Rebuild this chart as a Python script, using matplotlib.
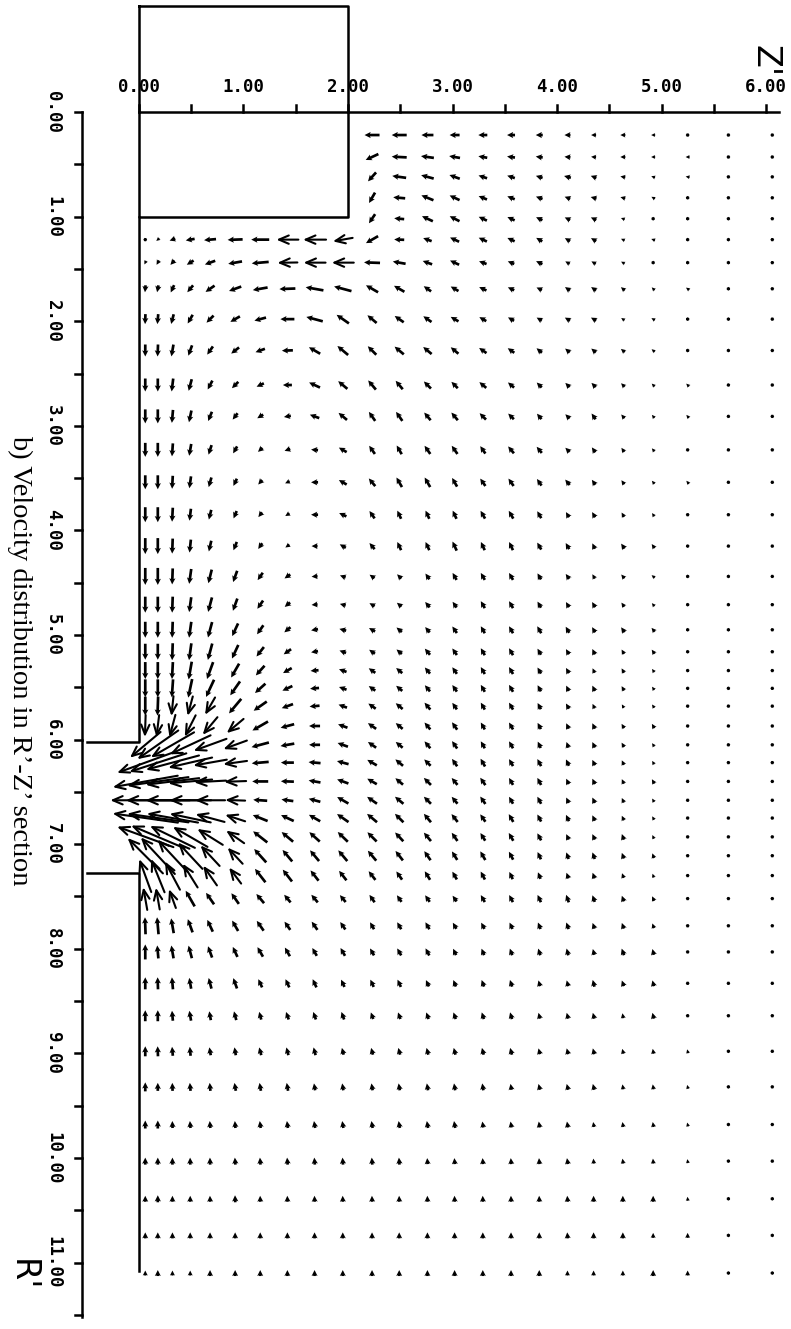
import numpy as np
import matplotlib
matplotlib.use('Agg')
import matplotlib.pyplot as plt

# grid of the velocity arrows (Z' across, R' down)
Z_COLS = [0.06, 0.18, 0.32, 0.49, 0.68, 0.92, 1.16, 1.42, 1.68, 1.95, 2.23, 2.49,
          2.76, 3.02, 3.29, 3.56, 3.83, 4.10, 4.35, 4.63, 4.92, 5.25, 5.64, 6.06]
R_ROWS = [0.22, 0.43, 0.62, 0.82, 1.02, 1.22, 1.44, 1.69, 1.98, 2.28, 2.61, 2.91,
          3.23, 3.54, 3.85, 4.15, 4.44, 4.71, 4.95, 5.16, 5.34, 5.51, 5.68, 5.87,
          6.05, 6.22, 6.40, 6.58, 6.75, 6.93, 7.11, 7.30, 7.52, 7.78, 8.03, 8.33,
          8.64, 8.98, 9.32, 9.68, 10.03, 10.39, 10.74, 11.10]

_ = None
# arrow magnitude (1/100 of a Z' unit), one row per R_ROWS entry
SPEED = [
    [_, _, _, _, _, _, _, _, _, _, 15, 15, 12, 10, 9, 8, 7, 6, 5, 5, 4, 3, 2, 1],
    [_, _, _, _, _, _, _, _, _, _, 14, 15, 13, 11, 9, 8, 7, 6, 5, 5, 4, 4, 2, 1],
    [_, _, _, _, _, _, _, _, _, _, 12, 14, 13, 11, 9, 8, 7, 7, 6, 5, 4, 4, 3, 1],
    [_, _, _, _, _, _, _, _, _, _, 12, 12, 13, 11, 9, 8, 7, 6, 6, 5, 4, 3, 2, 1],
    [_, _, _, _, _, _, _, _, _, _, 11, 10, 12, 11, 9, 8, 7, 6, 6, 4, 3, 3, 2, 1],
    [3, 4, 6, 9, 12, 15, 18, 22, 23, 20, 14, 10, 9, 10, 9, 8, 7, 6, 6, 4, 4, 3, 2, 1],
    [4, 5, 6, 8, 11, 14, 17, 20, 22, 22, 16, 13, 10, 10, 8, 7, 7, 5, 5, 4, 3, 3, 2, 1],
    [7, 7, 8, 9, 11, 13, 15, 16, 18, 18, 14, 12, 9, 9, 8, 7, 6, 6, 6, 5, 4, 4, 2, 1],
    [10, 10, 10, 10, 10, 11, 12, 14, 17, 15, 12, 11, 10, 9, 8, 7, 6, 6, 6, 4, 4, 3, 2, 1],
    [12, 12, 12, 11, 10, 10, 10, 11, 13, 14, 12, 12, 11, 10, 9, 8, 7, 6, 6, 5, 4, 3, 2, 1],
    [13, 13, 13, 12, 10, 9, 8, 9, 12, 12, 12, 11, 10, 9, 9, 8, 7, 6, 6, 5, 4, 4, 2, 1],
    [14, 14, 13, 12, 10, 8, 7, 7, 10, 11, 11, 11, 10, 10, 9, 8, 7, 6, 7, 5, 4, 4, 2, 1],
    [14, 14, 13, 12, 10, 8, 6, 6, 7, 9, 10, 10, 10, 10, 9, 9, 8, 6, 6, 5, 4, 3, 2, 1],
    [14, 14, 13, 12, 10, 8, 6, 5, 7, 9, 10, 11, 11, 10, 9, 9, 8, 7, 6, 5, 4, 4, 2, 1],
    [15, 15, 14, 12, 10, 8, 6, 5, 7, 8, 9, 9, 9, 9, 9, 9, 8, 6, 6, 5, 4, 3, 2, 1],
    [16, 16, 15, 13, 11, 9, 7, 5, 6, 7, 8, 9, 9, 10, 9, 9, 8, 7, 6, 6, 5, 3, 2, 1],
    [17, 17, 16, 15, 14, 12, 9, 7, 6, 6, 6, 6, 7, 8, 8, 8, 7, 6, 5, 5, 4, 3, 2, 1],
    [16, 16, 16, 15, 15, 13, 10, 7, 6, 6, 6, 6, 7, 7, 8, 8, 7, 6, 6, 5, 4, 3, 2, 1],
    [16, 16, 16, 16, 16, 14, 11, 8, 7, 7, 7, 7, 7, 8, 8, 8, 8, 7, 6, 6, 5, 3, 2, 1],
    [16, 16, 17, 17, 17, 15, 12, 9, 7, 7, 7, 7, 8, 8, 8, 8, 7, 6, 6, 5, 5, 3, 2, 1],
    [17, 17, 17, 18, 18, 16, 13, 10, 8, 8, 8, 8, 8, 8, 8, 8, 7, 6, 5, 5, 4, 3, 2, 1],
    [18, 18, 18, 19, 19, 17, 14, 11, 9, 8, 8, 8, 8, 8, 8, 8, 7, 6, 6, 5, 4, 3, 2, 1],
    [19, 19, 20, 20, 20, 19, 16, 12, 10, 9, 9, 9, 9, 8, 8, 8, 7, 6, 5, 4, 4, 3, 2, 1],
    [22, 22, 23, 24, 23, 22, 18, 14, 11, 10, 10, 9, 9, 9, 8, 8, 7, 6, 6, 5, 5, 3, 2, 1],
    [40, 50, 50, 45, 35, 25, 18, 14, 11, 11, 10, 9, 9, 9, 8, 8, 7, 6, 6, 5, 4, 3, 2, 1],
    [60, 60, 55, 45, 34, 24, 17, 13, 12, 12, 11, 10, 9, 9, 9, 8, 8, 7, 6, 5, 4, 3, 2, 1],
    [66, 62, 54, 44, 32, 22, 16, 13, 12, 12, 11, 10, 10, 9, 9, 8, 8, 6, 6, 5, 5, 3, 2, 1],
    [70, 64, 54, 42, 30, 20, 14, 12, 12, 13, 12, 11, 10, 9, 9, 8, 8, 6, 6, 5, 4, 3, 2, 1],
    [66, 62, 52, 42, 30, 21, 16, 14, 13, 14, 13, 12, 11, 10, 9, 9, 8, 7, 6, 5, 4, 3, 2, 1],
    [60, 58, 50, 40, 30, 22, 18, 15, 14, 14, 13, 12, 11, 10, 9, 9, 8, 6, 6, 6, 4, 3, 2, 1],
    [50, 50, 44, 36, 28, 22, 18, 15, 14, 14, 13, 12, 11, 10, 10, 9, 8, 7, 7, 6, 5, 3, 2, 1],
    [35, 36, 32, 28, 24, 20, 17, 15, 13, 12, 11, 10, 10, 9, 9, 8, 7, 6, 6, 5, 4, 3, 2, 1],
    [23, 22, 20, 18, 14, 13, 12, 10, 10, 9, 9, 8, 8, 7, 8, 8, 8, 8, 7, 6, 5, 3, 2, 1],
    [17, 17, 15, 14, 13, 12, 12, 10, 10, 9, 8, 8, 8, 7, 7, 7, 7, 7, 6, 6, 5, 3, 2, 1],
    [15, 13, 13, 13, 12, 11, 11, 10, 9, 9, 8, 8, 8, 7, 7, 7, 7, 7, 6, 7, 6, 3, 2, 1],
    [12, 12, 12, 11, 11, 11, 9, 9, 9, 8, 8, 8, 7, 7, 7, 7, 6, 6, 7, 6, 6, 3, 2, 1],
    [11, 11, 10, 10, 9, 9, 8, 8, 8, 8, 7, 7, 7, 7, 7, 7, 6, 6, 6, 5, 6, 3, 2, 1],
    [10, 10, 9, 9, 8, 8, 8, 8, 8, 7, 7, 7, 7, 7, 7, 7, 6, 6, 6, 5, 5, 4, 2, 1],
    [9, 8, 8, 8, 8, 8, 8, 8, 7, 7, 7, 7, 7, 7, 7, 6, 6, 6, 6, 5, 5, 4, 2, 1],
    [8, 8, 7, 7, 7, 7, 7, 7, 7, 7, 7, 7, 7, 7, 6, 6, 6, 6, 5, 5, 5, 4, 2, 1],
    [7, 7, 7, 7, 7, 7, 7, 7, 7, 7, 7, 7, 6, 6, 6, 6, 6, 6, 5, 5, 5, 4, 2, 1],
    [6, 7, 6, 6, 6, 7, 6, 6, 6, 6, 6, 6, 6, 6, 6, 6, 6, 6, 6, 6, 6, 4, 2, 1],
    [6, 6, 6, 6, 6, 6, 6, 6, 6, 6, 6, 6, 6, 6, 6, 6, 6, 6, 6, 6, 5, 5, 2, 1],
    [5, 6, 5, 5, 6, 6, 6, 6, 6, 6, 6, 6, 6, 6, 6, 6, 6, 5, 5, 5, 6, 5, 2, 1],
]
# arrow direction on the page, degrees (180 = towards -Z', 90 = towards -R')
ANGLE = [
    [_, _, _, _, _, _, _, _, _, _, 180, 180, 180, 180, 180, 180, 180, 180, 180, 180, 180, 180, 180, 180],
    [_, _, _, _, _, _, _, _, _, _, 205, 177, 172, 170, 170, 172, 172, 175, 175, 180, 180, 180, 180, 180],
    [_, _, _, _, _, _, _, _, _, _, 228, 172, 165, 160, 162, 162, 163, 165, 160, 170, 160, 170, 170, 180],
    [_, _, _, _, _, _, _, _, _, _, 240, 175, 158, 155, 158, 158, 160, 160, 165, 165, 150, 160, 170, 180],
    [_, _, _, _, _, _, _, _, _, _, 236, 175, 155, 153, 155, 155, 155, 155, 155, 160, 150, 150, 160, 180],
    [235, 220, 200, 190, 185, 182, 180, 180, 180, 190, 210, 178, 160, 155, 155, 155, 150, 150, 150, 155, 160, 160, 160, 180],
    [245, 240, 228, 212, 200, 190, 185, 181, 180, 180, 178, 170, 160, 155, 160, 158, 155, 150, 150, 150, 150, 150, 150, 180],
    [265, 258, 245, 230, 215, 200, 190, 182, 170, 165, 150, 150, 145, 150, 155, 155, 155, 145, 145, 140, 135, 145, 150, 180],
    [268, 265, 255, 240, 225, 210, 195, 180, 165, 145, 140, 145, 145, 150, 150, 150, 150, 150, 150, 145, 150, 150, 150, 180],
    [270, 268, 260, 250, 235, 218, 200, 182, 150, 140, 135, 140, 140, 140, 145, 145, 140, 140, 140, 140, 140, 140, 140, 180],
    [270, 270, 263, 255, 242, 225, 205, 180, 155, 140, 130, 130, 135, 135, 140, 140, 135, 135, 135, 135, 135, 135, 135, 180],
    [270, 270, 265, 258, 248, 232, 212, 190, 160, 140, 125, 125, 130, 130, 135, 135, 130, 135, 125, 130, 130, 130, 130, 180],
    [270, 270, 266, 260, 252, 240, 222, 200, 175, 150, 125, 120, 125, 125, 125, 130, 130, 135, 125, 125, 130, 130, 130, 180],
    [270, 270, 267, 262, 254, 244, 228, 205, 180, 150, 130, 120, 120, 120, 125, 125, 125, 130, 125, 125, 130, 130, 130, 180],
    [270, 270, 267, 263, 256, 247, 232, 212, 180, 155, 125, 115, 115, 115, 120, 120, 120, 120, 120, 120, 125, 125, 125, 180],
    [270, 270, 268, 264, 257, 248, 235, 215, 180, 150, 130, 115, 115, 115, 115, 115, 120, 120, 115, 125, 125, 140, 130, 180],
    [270, 270, 268, 262, 256, 250, 235, 215, 185, 160, 145, 135, 125, 120, 120, 120, 120, 125, 120, 130, 140, 160, 140, 180],
    [270, 270, 268, 262, 255, 250, 235, 220, 185, 165, 150, 140, 130, 125, 120, 120, 120, 120, 120, 125, 130, 140, 140, 180],
    [270, 270, 268, 262, 255, 245, 235, 220, 190, 165, 150, 140, 130, 125, 120, 120, 120, 120, 120, 125, 130, 150, 150, 180],
    [270, 270, 268, 262, 255, 245, 232, 215, 190, 160, 145, 140, 130, 125, 120, 120, 120, 120, 115, 120, 125, 140, 140, 180],
    [270, 270, 267, 260, 250, 240, 228, 210, 185, 160, 145, 140, 130, 125, 120, 120, 120, 120, 115, 120, 125, 135, 135, 180],
    [270, 270, 266, 258, 245, 235, 222, 205, 185, 160, 145, 140, 130, 125, 120, 120, 118, 115, 115, 120, 125, 135, 135, 180],
    [270, 268, 264, 255, 240, 230, 215, 200, 185, 160, 145, 140, 130, 125, 120, 120, 118, 120, 115, 120, 125, 130, 130, 180],
    [268, 263, 255, 243, 230, 220, 210, 195, 180, 160, 145, 140, 130, 125, 120, 120, 118, 115, 115, 120, 120, 130, 130, 180],
    [220, 215, 210, 205, 200, 200, 195, 190, 180, 160, 145, 140, 130, 125, 120, 120, 115, 110, 115, 120, 125, 130, 130, 180],
    [200, 198, 195, 193, 190, 188, 185, 180, 175, 165, 150, 140, 135, 125, 120, 120, 118, 115, 115, 115, 120, 125, 125, 180],
    [190, 188, 187, 185, 183, 182, 180, 178, 170, 160, 150, 140, 135, 130, 125, 120, 118, 115, 115, 115, 120, 125, 125, 180],
    [180, 180, 180, 180, 180, 178, 176, 172, 165, 150, 145, 140, 135, 130, 125, 120, 118, 115, 115, 115, 120, 125, 125, 180],
    [172, 172, 170, 168, 165, 162, 158, 155, 150, 145, 140, 135, 130, 128, 125, 120, 118, 115, 115, 115, 120, 125, 125, 180],
    [160, 157, 154, 150, 148, 145, 142, 140, 138, 136, 135, 133, 130, 125, 122, 120, 118, 115, 115, 110, 115, 125, 125, 180],
    [135, 133, 133, 133, 133, 133, 132, 130, 130, 130, 130, 128, 125, 122, 120, 118, 115, 110, 110, 110, 110, 120, 120, 180],
    [110, 112, 118, 122, 125, 127, 128, 128, 128, 128, 128, 125, 122, 120, 118, 115, 112, 110, 110, 110, 110, 120, 120, 180],
    [100, 100, 110, 120, 125, 125, 130, 130, 130, 130, 125, 125, 125, 125, 120, 118, 115, 110, 110, 110, 115, 120, 120, 180],
    [92, 95, 100, 110, 115, 120, 125, 125, 125, 125, 120, 120, 120, 120, 118, 115, 112, 110, 110, 110, 110, 120, 120, 180],
    [90, 95, 100, 105, 110, 115, 120, 120, 120, 120, 120, 120, 118, 115, 112, 110, 108, 105, 105, 110, 105, 120, 120, 180],
    [90, 92, 95, 100, 105, 110, 115, 115, 115, 115, 115, 115, 115, 112, 110, 108, 106, 105, 105, 110, 105, 120, 120, 180],
    [90, 90, 95, 100, 100, 105, 105, 110, 110, 110, 110, 110, 110, 110, 108, 106, 105, 105, 105, 100, 105, 110, 110, 180],
    [90, 92, 95, 95, 100, 100, 105, 105, 105, 105, 105, 105, 105, 105, 105, 105, 105, 105, 105, 105, 100, 105, 100, 180],
    [90, 90, 92, 95, 95, 100, 100, 100, 100, 100, 100, 100, 100, 100, 100, 100, 105, 105, 105, 100, 100, 105, 100, 180],
    [90, 90, 92, 95, 95, 95, 98, 98, 100, 100, 100, 100, 100, 100, 100, 100, 100, 100, 100, 100, 100, 105, 100, 180],
    [90, 90, 90, 92, 92, 95, 95, 95, 95, 95, 95, 95, 95, 95, 95, 95, 95, 100, 95, 100, 95, 100, 100, 180],
    [90, 90, 90, 90, 92, 92, 92, 92, 92, 92, 92, 92, 92, 92, 92, 92, 92, 95, 90, 90, 90, 95, 90, 90],
    [90, 90, 90, 90, 90, 90, 90, 90, 90, 90, 90, 90, 90, 90, 90, 90, 90, 95, 90, 90, 90, 90, 90, 90],
    [90, 90, 90, 90, 90, 90, 90, 90, 90, 90, 90, 90, 90, 90, 90, 90, 90, 90, 90, 90, 90, 90, 90, 90],
]

# outline of the model: electrode block and the walls with the outlet slot
BOX_Z = [0.0, 2.0, 2.0, 0.0, 0.0]
BOX_R = [-1.01, -1.01, 1.0, 1.0, -1.01]
WALL_UP_Z = [0.0, 0.0, -0.5]
WALL_UP_R = [1.0, 6.02, 6.02]
WALL_LO_Z = [-0.5, 0.0, 0.0]
WALL_LO_R = [7.28, 7.28, 11.08]

Z_TICKS = np.arange(0, 6.01, 0.5)
R_TICKS = np.arange(0, 11.51, 0.5)
Z_LABELS = [f'{v:.2f}' for v in range(0, 7)]
R_LABELS = [f'{v:.2f}' for v in range(0, 12)]

PX = 104.6  # pixels per unit on the page

fig = plt.figure(figsize=(7.91, 13.29), dpi=100)
ax = fig.add_axes([0, 0, 1, 1])
ax.set_xlim(-1.330, 6.239)
ax.set_ylim(11.635, -1.071)
ax.axis('off')

S = np.array(SPEED, dtype=float)
A = np.deg2rad(np.array(ANGLE, dtype=float))
U = S * np.cos(A)
V = -S * np.sin(A)
ZZ, RR = np.meshgrid(Z_COLS, R_ROWS)
ok = ~np.isnan(S)
small = ok & (S < 20)
big = ok & (S >= 20)

# short arrows: stubby plotter marks, thick shaft, small head
ax.quiver(ZZ[small], RR[small], U[small], V[small], angles='xy', scale_units='xy',
          scale=PX, pivot='middle', units='dots', width=2.7, headwidth=2.3,
          headlength=2.3, headaxislength=2.0, minlength=1.4, color='black')

# long arrows near the slot: thin shafts with open heads
for z, r, u, v in zip(ZZ[big], RR[big], U[big], V[big]):
    du, dv = u / PX / 2, v / PX / 2
    ax.annotate('', xy=(z + du, r + dv), xytext=(z - du, r - dv),
                arrowprops=dict(arrowstyle='->,head_length=0.7,head_width=0.3',
                                lw=1.5, color='black', shrinkA=0, shrinkB=0))

lw = 1.8
ax.plot(BOX_Z, BOX_R, color='black', lw=lw)
ax.plot(WALL_UP_Z, WALL_UP_R, color='black', lw=lw)
ax.plot(WALL_LO_Z, WALL_LO_R, color='black', lw=lw)

# hand-drawn style axes
tk = 0.067
ax.plot([0, 6.12], [0, 0], color='black', lw=lw)
for z in Z_TICKS:
    ax.plot([z, z], [0, -tk], color='black', lw=lw)
for i, lab in enumerate(Z_LABELS):
    ax.text(i, -0.24, lab, ha='center', va='center', fontsize=12.5,
            family='DejaVu Sans Mono', fontweight='bold')

xl = -0.545
ax.plot([xl, xl], [0, 11.52], color='black', lw=lw)
for r in R_TICKS:
    ax.plot([xl - tk, xl], [r, r], color='black', lw=lw)
for i, lab in enumerate(R_LABELS):
    ax.text(-0.823, i, lab, ha='center', va='center', rotation=-90, fontsize=12.5,
            family='DejaVu Sans Mono', fontweight='bold')

ax.text(5.99, -0.49, "Z'", ha='center', va='center', rotation=-90, fontsize=24)
ax.text(-1.12, 11.12, "R'", ha='center', va='center', rotation=-90, fontsize=24)
ax.text(-1.139, 5.24, "b) Velocity distribution in R\u2019-Z\u2019 section", ha='center',
        va='center', rotation=-90, fontsize=20.5, family='Liberation Serif')

fig.savefig('out.png', dpi=100)
